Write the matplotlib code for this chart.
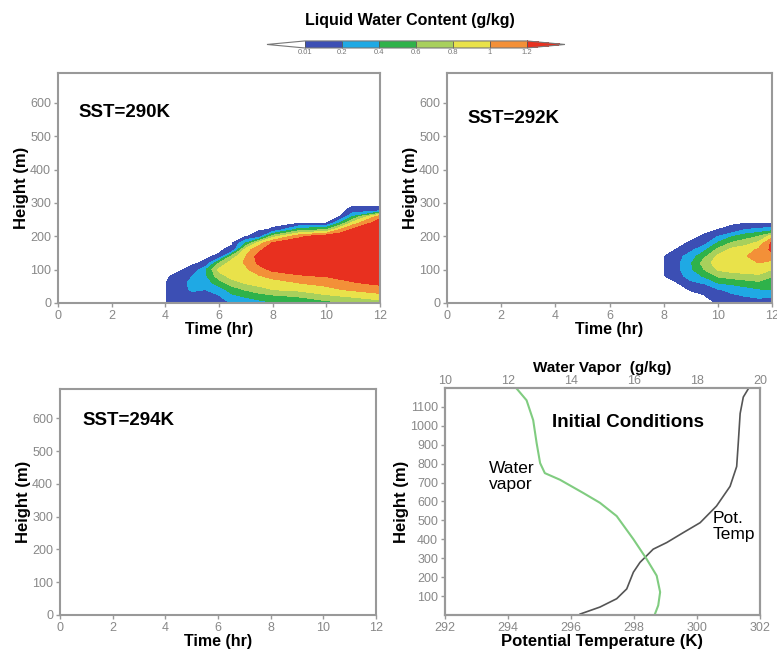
import numpy as np
import matplotlib
matplotlib.use('Agg')
import matplotlib.pyplot as plt
from matplotlib.colors import ListedColormap, BoundaryNorm
from matplotlib.cm import ScalarMappable

plt.rcParams['font.family'] = ['Liberation Sans', 'DejaVu Sans']

# colour levels of liquid water content (g/kg)
levels = [0.01, 0.2, 0.4, 0.6, 0.8, 1.0, 1.2]
level_labels = ['0.01', '0.2', '0.4', '0.6', '0.8', '1', '1.2']
band_colors = ['#3c4fb4', '#1fa9e4', '#2fb24a', '#a8d05c', '#e9e24a', '#f39038']
over_color = '#e8301f'

# model levels (m)
heights = [0, 20, 40, 60, 80, 100, 120, 140, 160, 180, 200, 220, 240, 260, 280, 300]

# SST = 290K : one row per time, values at each height
times_290 = [4.0, 4.5, 5.0, 5.5, 6.0, 6.5, 7.0, 7.5, 8.0, 9.0, 10.0, 10.5, 11.0, 12.0]
lwc_290 = [
    [0, 0, 0, 0, 0, 0, 0, 0, 0, 0, 0, 0, 0, 0, 0, 0],
    [.08, .12, .14, .12, .03, 0, 0, 0, 0, 0, 0, 0, 0, 0, 0, 0],
    [.10, .15, .22, .25, .20, .03, 0, 0, 0, 0, 0, 0, 0, 0, 0, 0],
    [.12, .16, .20, .30, .36, .38, .02, 0, 0, 0, 0, 0, 0, 0, 0, 0],
    [.12, .18, .30, .50, .70, .85, .60, .02, 0, 0, 0, 0, 0, 0, 0, 0],
    [.22, .35, .50, .70, .88, .95, .92, .70, .03, 0, 0, 0, 0, 0, 0, 0],
    [.28, .42, .62, .82, .92, .97, 1.02, 1.00, .90, .40, 0, 0, 0, 0, 0, 0],
    [.32, .50, .72, .88, .98, 1.10, 1.25, 1.30, 1.15, .90, .08, 0, 0, 0, 0, 0],
    [.38, .55, .80, .92, 1.05, 1.25, 1.35, 1.40, 1.35, 1.22, .70, .015, 0, 0, 0, 0],
    [.42, .62, .85, 1.00, 1.17, 1.30, 1.40, 1.45, 1.45, 1.35, 1.15, .50, 0, 0, 0, 0],
    [.52, .75, .95, 1.05, 1.21, 1.35, 1.42, 1.48, 1.50, 1.48, 1.35, .60, 0, 0, 0, 0],
    [.56, .79, .99, 1.12, 1.26, 1.37, 1.44, 1.49, 1.50, 1.48, 1.38, 1.00, .40, 0, 0, 0],
    [.60, .83, 1.03, 1.18, 1.30, 1.38, 1.45, 1.50, 1.50, 1.48, 1.40, 1.25, .90, .40, .02, 0],
    [.70, .92, 1.10, 1.25, 1.35, 1.42, 1.48, 1.50, 1.50, 1.48, 1.45, 1.40, 1.35, 1.10, .02, 0],
]

# SST = 292K
times_292 = [8.0, 8.5, 9.0, 9.5, 10.0, 10.5, 11.0, 11.5, 12.0]
lwc_292 = [
    [0, 0, 0, 0, 0, 0, 0, 0, 0, 0, 0, 0, 0, 0, 0, 0],
    [0, 0, 0, .005, .10, .15, .15, .12, .012, 0, 0, 0, 0, 0, 0, 0],
    [0, 0, .012, .15, .30, .36, .38, .30, .15, .015, 0, 0, 0, 0, 0, 0],
    [0, 0, .05, .22, .42, .60, .70, .55, .35, .12, .015, 0, 0, 0, 0, 0],
    [.012, .10, .18, .40, .62, .82, .90, .85, .65, .42, .20, .01, 0, 0, 0, 0],
    [.10, .16, .25, .45, .68, .88, .95, .95, .85, .62, .38, .03, 0, 0, 0, 0],
    [.12, .20, .32, .50, .72, .90, .98, .99, .92, .72, .50, .20, 0, 0, 0, 0],
    [.15, .22, .38, .55, .75, .92, 1.00, 1.05, 1.03, .85, .60, .25, 0, 0, 0, 0],
    [.15, .21, .41, .50, .61, .80, .93, 1.10, 1.25, 1.25, .90, .30, 0, 0, 0, 0],
]

# initial profiles
theta_height = [5, 42, 86, 138, 226, 278, 348, 383, 436, 488, 576, 680, 785, 908, 1065, 1152, 1196]
theta = [296.29, 296.92, 297.45, 297.77, 297.98, 298.19, 298.61, 299.04, 299.57, 300.1,
         300.62, 301.05, 301.26, 301.31, 301.37, 301.47, 301.63]
qv_height = [7, 51, 121, 208, 296, 401, 523, 593, 645, 715, 750, 803, 908, 1030, 1135, 1196]
qv = [16.67, 16.77, 16.83, 16.72, 16.4, 15.98, 15.45, 14.92, 14.39, 13.65, 13.17, 13.02,
      12.91, 12.8, 12.59, 12.28]

frame_color = '#999999'
label_color = '#888888'

cmap = ListedColormap(band_colors)
cmap.set_over(over_color)
cmap.set_under('white')
norm = BoundaryNorm(levels, cmap.N)


def style(ax, pad=2, length=3):
    for s in ax.spines.values():
        s.set_color(frame_color)
        s.set_linewidth(1.5)
    ax.tick_params(colors=frame_color, labelcolor=label_color, labelsize=9, length=length, width=1, pad=pad)


def lwc_panel(ax, times, lwc, title, pos):
    if times is not None:
        ax.contourf(times, heights, np.array(lwc).T, levels=levels, cmap=cmap, norm=norm, extend='max')
    ax.set_xlim(0, 12)
    ax.set_ylim(0, 690)
    ax.set_xticks(range(0, 13, 2))
    ax.set_yticks(range(0, 700, 100))
    ax.set_xlabel('Time (hr)', fontweight='bold', fontsize=11.5, labelpad=0)
    ax.set_ylabel('Height (m)', fontweight='bold', fontsize=12, labelpad=1)
    ax.text(pos[0], pos[1], title, transform=ax.transAxes, fontweight='bold', fontsize=13.5, va='center')
    style(ax)


fig = plt.figure(figsize=(7.77, 6.51), dpi=100)

ax1 = fig.add_axes([0.0746, 0.5346, 0.4144, 0.3533])
ax2 = fig.add_axes([0.5753, 0.5346, 0.4183, 0.3533])
ax3 = fig.add_axes([0.0772, 0.0553, 0.4067, 0.3472])
ax4 = fig.add_axes([0.5727, 0.0553, 0.4054, 0.3487])

lwc_panel(ax1, times_290, lwc_290, 'SST=290K', (0.065, 0.83))
lwc_panel(ax2, times_292, lwc_292, 'SST=292K', (0.062, 0.80))
lwc_panel(ax3, None, None, 'SST=294K', (0.07, 0.86))

# colour bar
cax = fig.add_axes([0.3436, 0.9263, 0.3835, 0.0108])
cb = fig.colorbar(ScalarMappable(norm=norm, cmap=cmap), cax=cax, orientation='horizontal',
                  extend='both', extendfrac=0.17, ticks=levels, drawedges=True)
cb.ax.set_xticklabels(level_labels)
cb.ax.tick_params(labelsize=5.5, labelcolor='#777777', length=0, pad=1)
cb.outline.set_edgecolor('#777777')
cb.outline.set_linewidth(0.8)
cb.dividers.set_color('#555555')
cb.dividers.set_linewidth(0.6)
fig.text(0.528, 0.969, 'Liquid Water Content (g/kg)', ha='center', va='center',
         fontweight='bold', fontsize=11.5)

# initial conditions
ax4.plot(theta, theta_height, color='#555555', lw=1.2)
ax4.set_xlim(292, 302)
ax4.set_ylim(0, 1200)
ax4.set_xticks(range(292, 303, 2))
ax4.set_yticks(range(100, 1200, 100))
ax4.set_xlabel('Potential Temperature (K)', fontweight='bold', fontsize=12, labelpad=0)
ax4.set_ylabel('Height (m)', fontweight='bold', fontsize=12, labelpad=1)
style(ax4)
ax4t = ax4.twiny()
ax4t.plot(qv, qv_height, color='#80cc80', lw=1.5)
ax4t.set_xlim(10, 20)
ax4t.set_xticks(range(10, 21, 2))
style(ax4t, pad=1, length=0)
ax4t.set_xlabel('Water Vapor  (g/kg)', fontweight='bold', fontsize=11, labelpad=2)
ax4.text(0.58, 0.85, 'Initial Conditions', transform=ax4.transAxes, fontweight='bold',
         fontsize=13.5, ha='center', va='center')
ax4.text(0.14, 0.61, 'Water\nvapor', transform=ax4.transAxes, fontsize=12.5, va='center',
         linespacing=1.05)
ax4.text(0.85, 0.39, 'Pot.\nTemp', transform=ax4.transAxes, fontsize=12.5, va='center',
         linespacing=1.05)

fig.savefig('out.png', dpi=100)
